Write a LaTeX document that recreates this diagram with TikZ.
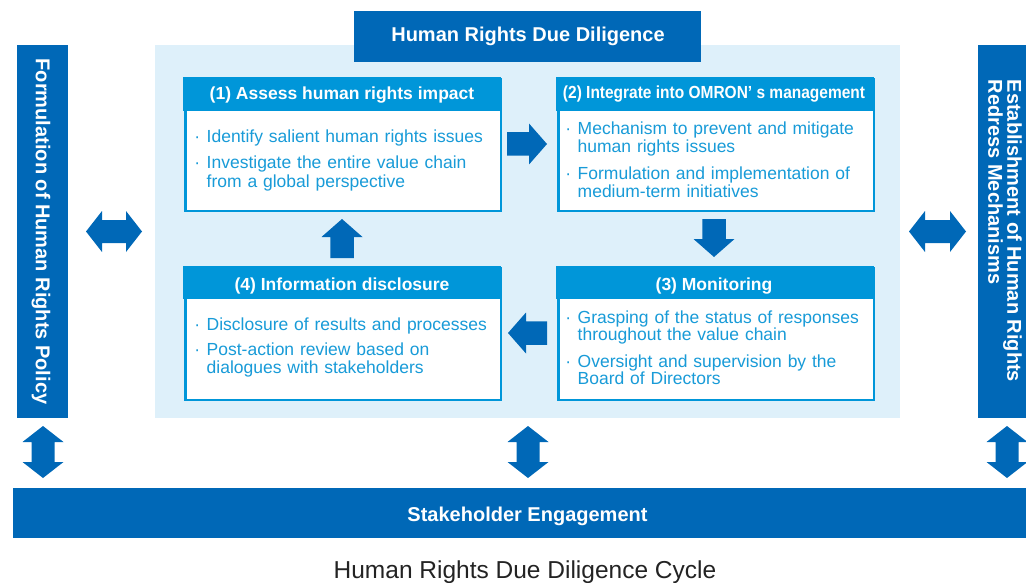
\documentclass[tikz,border=0pt]{standalone}
\usepackage{fontspec}
\setmainfont{Liberation Sans}
\definecolor{dblue}{RGB}{0,104,183}
\definecolor{hblue}{RGB}{0,150,217}
\definecolor{tblue}{RGB}{24,155,216}
\definecolor{lbg}{RGB}{222,240,250}
\definecolor{capgray}{RGB}{35,35,35}
\tikzset{
  blockarrow/.pic={\fill[dblue] (0,-11.75) -- ({#1-18},-11.75) -- ({#1-18},-20.5) -- (#1,0) -- ({#1-18},20.5) -- ({#1-18},11.75) -- (0,11.75) -- cycle;},
  dblarrow/.pic={\fill[dblue] ({-#1/2},0) -- ({-#1/2+16},20.5) -- ({-#1/2+16},11.5) -- ({#1/2-16},11.5) -- ({#1/2-16},20.5) -- ({#1/2},0) -- ({#1/2-16},-20.5) -- ({#1/2-16},-11.5) -- ({-#1/2+16},-11.5) -- ({-#1/2+16},-20.5) -- cycle;}
}
\begin{document}
\begin{tikzpicture}[x=1pt,y=-1pt,
  panel/.style={fill=#1, draw=none, inner sep=0pt, outer sep=0pt, anchor=north west},
  stepbox/.style={fill=white, draw=hblue, line width=2.5pt, inner sep=0pt, anchor=north west, minimum width=315.5pt, minimum height=131.5pt},
  hdr/.style={fill=hblue, draw=none, inner sep=0pt, anchor=north west, minimum width=318pt, minimum height=34pt},
  hdrtext/.style={text=white, font=\fontsize{17.5}{20}\selectfont\bfseries, anchor=base, inner sep=0pt},
  item/.style={text=tblue, font=\fontsize{17.5}{18}\selectfont, text width=300pt, align=left, anchor=base west, inner sep=0pt},
  bigtext/.style={text=white, font=\fontsize{20}{19}\selectfont\bfseries, inner sep=0pt}
]
\useasboundingbox (0,0) rectangle (1026,583);
% background panel and title
\node[panel=lbg, minimum width=745pt, minimum height=373pt] (bg) at (155,45) {};
\node[panel=dblue, minimum width=347pt, minimum height=51pt] (title) at (354,11) {};
\node[bigtext, anchor=base] (titletext) at (528,42) {Human Rights Due Diligence};
% side bars
\node[panel=dblue, minimum width=51pt, minimum height=373pt] (lbar) at (17,45) {};
\node[panel=dblue, minimum width=52pt, minimum height=373pt] (rbar) at (978,45) {};
\node[bigtext, rotate=-90] (ltext) at (41,231.5) {Formulation of Human Rights Policy};
\node[bigtext, rotate=-90, align=left] (rtext) at (1005,231) {Establishment of Human Rights\\Redress Mechanisms};
% bottom bar
\node[panel=dblue, minimum width=1017pt, minimum height=50pt] (bbar) at (13,488) {};
\node[bigtext, anchor=base] (btext) at (527.5,521) {Stakeholder Engagement};
% boxes
\node[stepbox] (b1) at (184.25,78.25) {};
\node[hdr] (h1) at (183,77) {};
\node[hdrtext] (h1t) at (342,100) {(1) Assess human rights impact};
\node[stepbox] (b2) at (557.25,78.25) {};
\node[hdr] (h2) at (556,77) {};
\node[hdrtext] (h2t) at (714,99) {\scalebox{0.885}[1]{(2) Integrate into OMRON’ s management}};
\node[stepbox] (b4) at (184.25,267.25) {};
\node[hdr, minimum height=33pt] (h4) at (183,266) {};
\node[hdrtext] (h4t) at (342,290) {(4) Information disclosure};
\node[stepbox] (b3) at (557.25,267.25) {};
\node[hdr, minimum height=33pt] (h3) at (556,266) {};
\node[hdrtext] (h3t) at (714,290) {(3) Monitoring};
% items
\node[item] (i11) at (206.5,143) {\llap{·\hspace{6.5pt}}Identify salient human rights issues};
\node[item] (i12) at (206.5,169) {\llap{·\hspace{6.5pt}}Investigate the entire value chain\\from a global perspective};
\node[item] (i21) at (577.5,135) {\llap{·\hspace{6.5pt}}Mechanism to prevent and mitigate\\human rights issues};
\node[item] (i22) at (577.5,179) {\llap{·\hspace{6.5pt}}Formulation and implementation of\\medium-term initiatives};
\node[item] (i41) at (206.5,330) {\llap{·\hspace{6.5pt}}Disclosure of results and processes};
\node[item] (i42) at (206.5,355) {\llap{·\hspace{6.5pt}}Post-action review based on\\dialogues with stakeholders};
\node[item, font=\fontsize{17.5}{17}\selectfont] (i31) at (577.5,323) {\llap{·\hspace{6.5pt}}Grasping of the status of responses\\throughout the value chain};
\node[item, font=\fontsize{17.5}{17}\selectfont] (i32) at (577.5,367) {\llap{·\hspace{6.5pt}}Oversight and supervision by the\\Board of Directors};
% cycle arrows
\pic (a12) at (507,144) {blockarrow=40};
\pic[rotate=-90] (a23) at (714,219) {blockarrow=38};
\pic[rotate=180] (a34) at (547,333) {blockarrow=39};
\pic[rotate=90] (a41) at (342,258) {blockarrow=39};
% double arrows
\pic (dl) at (114,231.5) {dblarrow=56};
\pic (dr) at (937.5,231.5) {dblarrow=57};
\pic[rotate=90] (dbl) at (43,452) {dblarrow=52};
\pic[rotate=90] (dbm) at (528,452) {dblarrow=52};
\pic[rotate=90] (dbr) at (1007,452) {dblarrow=52};
% caption
\node[anchor=base, inner sep=0pt, text=capgray, font=\fontsize{24.5}{27}\selectfont] (cap) at (525,578) {Human Rights Due Diligence Cycle};
\end{tikzpicture}
\end{document}
